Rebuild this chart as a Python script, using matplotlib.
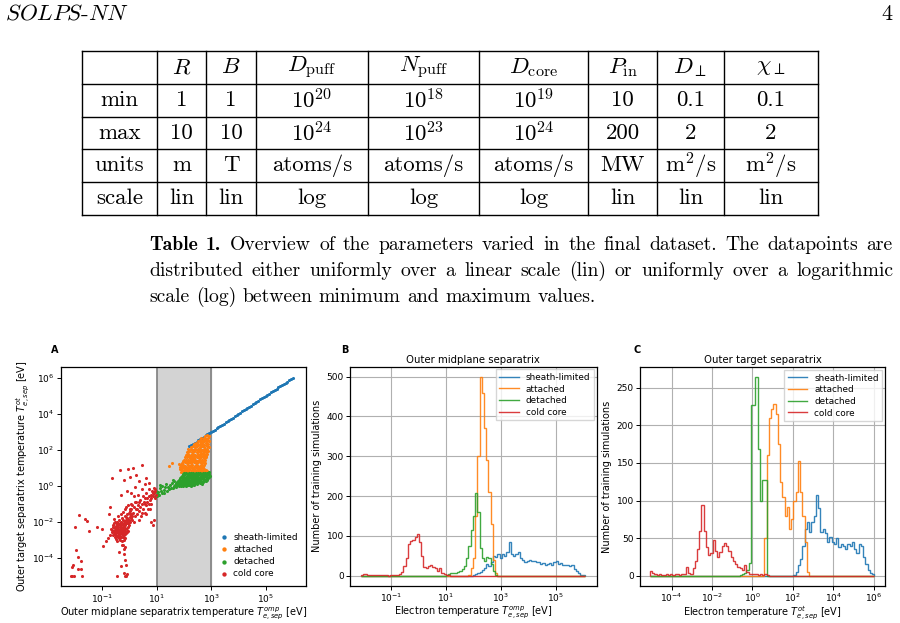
import numpy as np
import matplotlib.pyplot as plt
from matplotlib.lines import Line2D
from matplotlib.ticker import NullLocator

W, H = 900, 623

# ---------------- table 1 ----------------
col_heads = ['', r'$R$', r'$B$', r'$D_\mathrm{puff}$', r'$N_\mathrm{puff}$', r'$D_\mathrm{core}$',
             r'$P_\mathrm{in}$', r'$D_\perp$', r'$\chi_\perp$']
row_min = ['min', '1', '1', r'$10^{20}$', r'$10^{18}$', r'$10^{19}$', '10', '0.1', '0.1']
row_max = ['max', '10', '10', r'$10^{24}$', r'$10^{23}$', r'$10^{24}$', '200', '2', '2']
row_units = ['units', 'm', 'T', 'atoms/s', 'atoms/s', 'atoms/s', 'MW', r'm$^2$/s', r'm$^2$/s']
row_scale = ['scale', 'lin', 'lin', 'log', 'log', 'log', 'lin', 'lin', 'lin']

caption_bold = 'Table 1.'
caption = ['Overview of the parameters varied in the final dataset. The datapoints are',
           'distributed either uniformly over a linear scale (lin) or uniformly over a logarithmic',
           'scale (log) between minimum and maximum values.']

# ---------------- panel A: scatter (log10 T_omp, log10 T_ot) ----------------
sheath_logx = [2.20, 2.26, 2.33, 2.40, 2.46, 2.53, 2.60, 2.66, 2.73, 2.80, 2.86, 2.93, 3.00, 3.06, 3.13,
               3.20, 3.26, 3.33, 3.40, 3.46, 3.53, 3.60, 3.66, 3.73, 3.80, 3.86, 3.93, 4.00, 4.06, 4.13,
               4.20, 4.26, 4.33, 4.40, 4.46, 4.53, 4.60, 4.66, 4.73, 4.80, 4.86, 4.93, 5.00, 5.06, 5.13,
               5.20, 5.26, 5.33, 5.40, 5.46, 5.53, 5.60, 5.66, 5.73, 5.80, 5.86, 5.93, 6.00]
sheath_logy = [2.18, 2.25, 2.31, 2.39, 2.44, 2.52, 2.58, 2.65, 2.71, 2.79, 2.84, 2.92, 2.98, 3.05, 3.11,
               3.19, 3.24, 3.32, 3.38, 3.45, 3.51, 3.59, 3.64, 3.72, 3.78, 3.85, 3.91, 3.99, 4.04, 4.12,
               4.18, 4.25, 4.31, 4.39, 4.44, 4.52, 4.58, 4.65, 4.71, 4.79, 4.84, 4.92, 4.98, 5.05, 5.11,
               5.19, 5.24, 5.32, 5.38, 5.45, 5.51, 5.59, 5.64, 5.72, 5.78, 5.85, 5.91, 5.99]

attached_pts = [
    (1.90, 0.78), (1.98, 0.83), (2.07, 0.77), (2.16, 0.82), (2.24, 0.78), (2.33, 0.84), (2.41, 0.79),
    (2.50, 0.81), (2.58, 0.77), (2.67, 0.83), (2.75, 0.79), (2.83, 0.80),
    (1.94, 0.87), (2.03, 0.88), (2.11, 0.86), (2.20, 0.89), (2.29, 0.87), (2.37, 0.88), (2.46, 0.86),
    (2.54, 0.89), (2.63, 0.87), (2.71, 0.88), (2.79, 0.86),
    (1.86, 0.95), (1.94, 1.00), (2.03, 0.93), (2.12, 0.98), (2.20, 0.94), (2.29, 1.00), (2.37, 0.95),
    (2.46, 0.99), (2.55, 0.93), (2.63, 0.98), (2.72, 0.95),
    (1.92, 1.05), (2.01, 1.04), (2.09, 1.06), (2.18, 1.03), (2.26, 1.05), (2.35, 1.04), (2.43, 1.06),
    (2.52, 1.03), (2.60, 1.05), (2.69, 1.04),
    (1.88, 1.12), (1.97, 1.15), (2.05, 1.10), (2.14, 1.16), (2.22, 1.11), (2.31, 1.14), (2.39, 1.09),
    (2.48, 1.15), (2.57, 1.10), (2.65, 1.14), (2.73, 1.12),
    (1.93, 1.27), (2.02, 1.30), (2.10, 1.25), (2.19, 1.31), (2.27, 1.26), (2.36, 1.30), (2.44, 1.24),
    (2.53, 1.29), (2.61, 1.26), (2.70, 1.30), (2.78, 1.27),
    (1.97, 1.36), (2.06, 1.35), (2.14, 1.34), (2.23, 1.36), (2.31, 1.35), (2.40, 1.34), (2.48, 1.36),
    (2.57, 1.35), (2.65, 1.33), (2.74, 1.35),
    (1.99, 1.42), (2.07, 1.45), (2.16, 1.40), (2.25, 1.46), (2.33, 1.41), (2.42, 1.44), (2.50, 1.39),
    (2.59, 1.45), (2.67, 1.41), (2.76, 1.44),
    (2.04, 1.57), (2.12, 1.60), (2.21, 1.55), (2.30, 1.61), (2.38, 1.56), (2.47, 1.60), (2.55, 1.54),
    (2.64, 1.59), (2.72, 1.56), (2.80, 1.60),
    (2.10, 1.65), (2.19, 1.66), (2.27, 1.64), (2.36, 1.66), (2.45, 1.65), (2.53, 1.64), (2.62, 1.66),
    (2.70, 1.65), (2.79, 1.66),
    (2.08, 1.72), (2.16, 1.75), (2.25, 1.70), (2.34, 1.76), (2.42, 1.71), (2.51, 1.74), (2.59, 1.69),
    (2.68, 1.75), (2.77, 1.72), (2.84, 1.74),
    (2.12, 1.87), (2.20, 1.90), (2.29, 1.85), (2.38, 1.91), (2.46, 1.86), (2.55, 1.90), (2.63, 1.84),
    (2.72, 1.89), (2.80, 1.86), (2.87, 1.90),
    (2.20, 1.95), (2.29, 1.96), (2.37, 1.94), (2.46, 1.96), (2.54, 1.95), (2.63, 1.94), (2.71, 1.96),
    (2.80, 1.95),
    (2.16, 2.02), (2.25, 2.05), (2.33, 2.00), (2.42, 2.06), (2.50, 2.01), (2.59, 2.05), (2.67, 1.99),
    (2.76, 2.04), (2.84, 2.01),
    (2.24, 2.17), (2.32, 2.20), (2.41, 2.15), (2.49, 2.21), (2.58, 2.16), (2.66, 2.20), (2.75, 2.14),
    (2.83, 2.19), (2.90, 2.16),
    (2.40, 2.25), (2.49, 2.27), (2.57, 2.24), (2.66, 2.26), (2.74, 2.25), (2.83, 2.26),
    (2.36, 2.32), (2.45, 2.35), (2.53, 2.30), (2.62, 2.36), (2.70, 2.31), (2.79, 2.35), (2.87, 2.30),
    (2.50, 2.47), (2.58, 2.50), (2.67, 2.45), (2.75, 2.50), (2.84, 2.46), (2.91, 2.49),
    (2.60, 2.55), (2.69, 2.56), (2.77, 2.54), (2.86, 2.56),
    (2.64, 2.62), (2.72, 2.65), (2.80, 2.60), (2.88, 2.64),
    (2.78, 2.76), (2.86, 2.80), (2.92, 2.75),
    (1.82, 1.20), (1.85, 1.05), (1.45, 1.10), (1.55, 1.25),
]

detached_pts = [
    (2.00, 0.71), (2.09, 0.68), (2.17, 0.72), (2.26, 0.69), (2.34, 0.72), (2.43, 0.68), (2.51, 0.71),
    (2.60, 0.69), (2.68, 0.72), (2.77, 0.68), (2.85, 0.71), (2.93, 0.74),
    (1.96, 0.64), (2.05, 0.63), (2.13, 0.65), (2.22, 0.62), (2.30, 0.64), (2.39, 0.63), (2.47, 0.65),
    (2.56, 0.62), (2.64, 0.64), (2.73, 0.63), (2.81, 0.65), (2.90, 0.63),
    (1.92, 0.56), (2.01, 0.58), (2.10, 0.54), (2.18, 0.59), (2.27, 0.55), (2.35, 0.58), (2.44, 0.53),
    (2.52, 0.58), (2.61, 0.55), (2.69, 0.59), (2.78, 0.54), (2.86, 0.58), (2.94, 0.55),
    (1.89, 0.49), (1.98, 0.48), (2.07, 0.50), (2.15, 0.47), (2.24, 0.49), (2.32, 0.48), (2.41, 0.50),
    (2.49, 0.47), (2.58, 0.49), (2.66, 0.48), (2.75, 0.50), (2.83, 0.47), (2.91, 0.49),
    (1.85, 0.42), (1.94, 0.40), (2.03, 0.44), (2.11, 0.39), (2.20, 0.43), (2.28, 0.40), (2.37, 0.44),
    (2.45, 0.39), (2.54, 0.43), (2.62, 0.40), (2.71, 0.44), (2.79, 0.39), (2.88, 0.43),
    (1.82, 0.34), (1.91, 0.33), (2.00, 0.35), (2.08, 0.32), (2.17, 0.34), (2.25, 0.33), (2.34, 0.35),
    (2.42, 0.32), (2.51, 0.34), (2.59, 0.33), (2.68, 0.35), (2.76, 0.32), (2.85, 0.34),
    (1.78, 0.27), (1.87, 0.24), (1.96, 0.28), (2.04, 0.23), (2.13, 0.27), (2.21, 0.24), (2.30, 0.28),
    (2.38, 0.23), (2.47, 0.27), (2.55, 0.24), (2.64, 0.28), (2.72, 0.25), (2.80, 0.28),
    (1.74, 0.19), (1.83, 0.18), (1.92, 0.20), (2.01, 0.17), (2.10, 0.19), (2.18, 0.18), (2.27, 0.20),
    (2.35, 0.17), (2.44, 0.19), (2.52, 0.18), (2.61, 0.20), (2.70, 0.18),
    (1.70, 0.12), (1.79, 0.09), (1.88, 0.13), (1.97, 0.08), (2.06, 0.12), (2.14, 0.09), (2.23, 0.13),
    (2.31, 0.10), (2.40, 0.13), (2.48, 0.09), (2.57, 0.14), (2.66, 0.11),
    (1.66, 0.05), (1.75, 0.04), (1.84, 0.06), (1.93, 0.03), (2.02, 0.05), (2.11, 0.04), (2.20, 0.06),
    (2.28, 0.04), (2.36, 0.06),
    (1.62, -0.02), (1.71, -0.05), (1.80, -0.01), (1.89, -0.04), (1.98, 0.00), (2.07, -0.03),
    (2.16, 0.01), (2.25, -0.02),
    (1.55, 0.15), (1.48, 0.05), (1.40, -0.05), (1.52, -0.12), (1.44, -0.18), (1.35, 0.10), (1.30, -0.10),
    (1.25, -0.22), (1.20, 0.00), (1.15, -0.30), (1.10, -0.15), (1.05, -0.35), (1.00, -0.45), (0.97, -0.30),
    (1.08, -0.50), (1.18, -0.40), (1.60, -0.15), (1.65, 0.25), (1.58, 0.30), (1.38, -0.30), (1.28, -0.38),
    (1.12, 0.05), (0.93, -0.55), (1.02, -0.60),
]

cold_pts = [
    (-0.62, -2.30), (-0.60, -2.50), (-0.58, -2.10), (-0.55, -2.70), (-0.55, -2.35), (-0.52, -2.00),
    (-0.50, -2.55), (-0.50, -2.25), (-0.48, -2.80), (-0.47, -2.40), (-0.45, -2.10), (-0.44, -2.60),
    (-0.42, -2.30), (-0.40, -2.90), (-0.40, -2.50), (-0.38, -2.15), (-0.37, -1.90), (-0.35, -2.70),
    (-0.35, -2.40), (-0.33, -2.20), (-0.32, -2.55), (-0.30, -2.85), (-0.30, -2.00), (-0.28, -2.35),
    (-0.27, -1.80), (-0.25, -2.60), (-0.25, -2.20), (-0.23, -2.45), (-0.22, -1.95), (-0.20, -2.75),
    (-0.20, -2.30), (-0.18, -2.05), (-0.17, -1.70), (-0.15, -2.50), (-0.15, -2.20), (-0.13, -1.90),
    (-0.12, -2.65), (-0.10, -2.35), (-0.10, -1.60), (-0.08, -2.10), (-0.06, -1.85), (-0.05, -2.50),
    (-0.03, -1.50), (-0.02, -2.20), (0.00, -1.75), (0.02, -2.00), (0.03, -1.40), (0.05, -1.60),
    (-0.50, -2.95), (-0.45, -3.05), (-0.35, -3.00), (-0.28, -3.10), (-0.20, -3.00), (-0.15, -2.90),
    (-0.60, -2.75), (-0.65, -2.60), (-0.68, -2.40), (-0.57, -1.85), (-0.42, -1.70), (-0.30, -1.55),
    (-0.25, -1.45), (-0.18, -1.30), (-0.12, -1.20), (-0.05, -1.10), (0.00, -1.30),
    (-0.53, -2.45), (-0.47, -2.15), (-0.43, -2.75), (-0.38, -2.62), (-0.33, -2.45), (-0.27, -2.50),
    (-0.22, -2.15), (-0.18, -2.60), (-0.10, -2.00), (-0.08, -2.55), (-0.36, -2.30), (-0.46, -2.50),
    (-0.58, -2.60), (-0.26, -2.05), (-0.14, -1.75), (-0.04, -1.95),
    (-0.60, -2.20), (-0.56, -2.55), (-0.52, -2.30), (-0.49, -2.65), (-0.46, -2.00), (-0.43, -2.45),
    (-0.41, -2.20), (-0.39, -2.78), (-0.36, -2.05), (-0.34, -2.58), (-0.31, -2.30), (-0.29, -2.70),
    (-0.26, -2.40), (-0.24, -1.90), (-0.21, -2.55), (-0.19, -2.20), (-0.16, -2.40), (-0.13, -2.05),
    (-0.11, -2.50), (-0.09, -1.80), (-0.07, -2.30), (-0.04, -2.10), (-0.01, -1.90), (0.01, -1.60),
    (0.04, -1.80), (0.07, -1.30), (0.08, -1.70), (-0.50, -2.40), (-0.44, -2.85), (-0.33, -2.85),
    (-0.23, -2.85), (-0.16, -2.70), (-0.54, -2.85), (-0.64, -2.45),
    (-0.25, -3.30), (-0.20, -3.50), (-0.22, -3.80), (-0.15, -3.40), (-0.18, -4.10), (-0.12, -4.40),
    (-0.20, -4.85), (-0.15, -5.00), (-0.10, -4.90), (-0.45, -5.00), (-0.30, -4.45), (-0.38, -3.70),
    (-0.27, -3.30), (-0.12, -5.00),
    (0.10, -1.90), (0.12, -1.50), (0.15, -1.20), (0.18, -2.00), (0.20, -1.70), (0.22, -1.30),
    (0.25, -0.90), (0.28, -1.60), (0.30, -1.10), (0.33, -1.90), (0.35, -1.40), (0.38, -0.80),
    (0.40, -1.20), (0.42, -1.70), (0.45, -1.00), (0.48, -0.60), (0.50, -1.30), (0.52, -0.90),
    (0.55, -1.50), (0.58, -0.70), (0.60, -1.10), (0.62, -0.40), (0.65, -0.90), (0.68, -1.30),
    (0.70, -0.60), (0.72, -0.20), (0.75, -0.80), (0.78, -0.50), (0.80, -1.00), (0.82, -0.30),
    (0.85, -0.60), (0.88, -0.15), (0.90, -0.40), (0.92, -0.70), (0.95, -0.30), (0.97, -0.50),
    (0.05, -1.00), (0.30, -0.50), (0.15, -0.60), (0.60, -1.60), (0.75, -1.30), (0.78, -2.00),
    (0.87, -2.20), (0.90, -1.90), (0.10, -1.10), (0.20, -0.90), (0.27, -1.30), (0.35, -0.90),
    (0.45, -1.50), (0.55, -1.00), (0.65, -0.70), (0.70, -1.00), (0.80, -0.70), (0.85, -0.40),
    (0.93, -0.20),
    (-0.66, 0.40), (-0.36, 0.87), (-0.07, 0.92), (0.14, 0.98), (0.47, 1.16), (0.25, 0.60), (0.02, 0.50),
    (-0.20, 0.30), (0.35, 0.25), (0.55, 0.10), (0.60, 0.45), (0.70, 0.15), (0.45, -0.20), (0.20, -0.10),
    (-0.10, -0.30), (-0.30, -0.50), (0.05, -0.40),
    (-1.84, -1.63), (-2.00, -2.28), (-1.63, -1.86), (-1.57, -1.95), (-1.20, -2.28), (-0.96, -3.35),
    (-0.72, -2.74), (-2.06, -4.40), (-2.12, -4.50), (-1.89, -3.94), (-1.78, -4.20), (-1.78, -4.60),
    (-1.90, -4.60), (-2.15, -5.00), (-2.10, -5.00), (-2.05, -5.00), (-1.73, -5.00), (-1.95, -3.55),
    (-1.50, -2.50), (-1.00, -2.40), (-0.85, -3.10), (-0.80, -2.90), (-0.75, -1.60), (-0.70, -1.20),
]

# ---------------- panels B / C: histograms (100 log bins, nonzero stretch + start bin) ----------------
n_bins = 100
B_log_range = (-2.10, 6.05)
C_log_range = (-5.07, 6.03)

B_sheath_start, B_sheath = 50, [2, 4, 6, 10, 15, 20, 30, 25, 35, 50, 48, 55, 45, 55, 50, 60, 85, 55, 50, 55,
                                60, 45, 40, 35, 38, 40, 36, 38, 35, 34, 30, 32, 28, 30, 33, 28, 35, 38, 30, 32,
                                28, 28, 27, 25, 26, 18, 12, 6, 3, 2]
B_attached_start, B_attached = 48, [3, 20, 45, 150, 300, 500, 460, 370, 290, 210, 130, 40, 8]
B_detached_start, B_detached = 38, [3, 5, 8, 6, 8, 10, 12, 18, 25, 45, 75, 115, 150, 209, 160, 70, 45, 38,
                                    48, 45, 30, 12, 3]
B_cold_start, B_cold = 0, [3, 5, 4, 2, 3, 2, 3, 1, 1, 2, 1, 1, 0, 1, 1, 2, 3, 5, 10, 25, 45, 80, 88, 90, 97,
                           105, 85, 50, 22, 20, 24, 26, 22, 20, 12, 20, 8, 5, 3, 2]

C_sheath_start, C_sheath = 64, [1, 5, 14, 22, 40, 62, 72, 58, 72, 80, 108, 90, 58, 62, 57, 45, 52, 45, 42, 50,
                                38, 42, 40, 35, 42, 40, 45, 35, 30, 42, 40, 25, 15, 8, 4, 2]
C_attached_start, C_attached = 51, [50, 160, 210, 222, 229, 215, 175, 125, 105, 80, 92, 62, 75, 100, 112,
                                    152, 112, 80, 45, 5]
C_detached_start, C_detached = 40, [1, 2, 4, 8, 17, 227, 227, 264, 168, 100, 128, 128]
C_cold_start, C_cold = 0, [6, 4, 2, 1, 2, 1, 1, 3, 1, 2, 1, 2, 2, 1, 3, 2, 12, 4, 3, 10, 20, 35, 60, 94, 60,
                           38, 28, 30, 48, 33, 25, 32, 40, 44, 40, 33, 25, 20, 16, 12, 10, 8, 14, 5, 3, 2, 3,
                           2, 1, 2, 1, 2, 1]

labels = ['sheath-limited', 'attached', 'detached', 'cold core']
colors = ['tab:blue', 'tab:orange', 'tab:green', 'tab:red']


def full_counts(start, vals):
    c = np.zeros(n_bins)
    c[start:start + len(vals)] = vals
    return c


def fx(px):
    return px / W


def fy(py):
    return 1 - py / H


fig = plt.figure(figsize=(9, 6.23), dpi=100)
renderer = fig.canvas.get_renderer()

# page header
fig.text(fx(5), fy(14), r'$\mathit{SOLPS}$-$\mathit{NN}$', family='cmr10', math_fontfamily='cm',
         fontsize=16.5, va='center', ha='left')
fig.text(fx(893), fy(14), '4', family='cmr10', fontsize=16, va='center', ha='right')

# table grid
tab_fs = 16.5
col_x = [82, 157, 206, 256, 368, 479, 588, 657, 724, 818]
row_y = [51, 84, 117, 149, 182, 215]
for px in col_x:
    fig.add_artist(Line2D([fx(px), fx(px)], [fy(row_y[0]), fy(row_y[-1])], color='k', lw=1.0))
for py in row_y:
    fig.add_artist(Line2D([fx(col_x[0]), fx(col_x[-1])], [fy(py), fy(py)], color='k', lw=1.0))
for r, row in enumerate([col_heads, row_min, row_max, row_units, row_scale]):
    yc = (row_y[r] + row_y[r + 1]) / 2
    for c, cell in enumerate(row):
        xc = (col_x[c] + col_x[c + 1]) / 2
        fig.text(fx(xc), fy(yc), cell, family='cmr10', math_fontfamily='cm', fontsize=tab_fs,
                 ha='center', va='center')

# caption, justified like the LaTeX source (last line ragged)
cap_fs = 14.2
cap_x0, cap_x1 = 149, 893
for k, line in enumerate(caption):
    words = [(w, 'cmr10') for w in line.split()]
    if k == 0:
        words = [(w, 'cmb10') for w in caption_bold.split()] + words
    objs = [fig.text(0, fy(245 + 26 * k), w, family=f, fontsize=cap_fs, ha='left', va='center')
            for w, f in words]
    widths = [t.get_window_extent(renderer).width for t in objs]
    gap = cap_fs * 100 / 72 * 0.33
    if k < len(caption) - 1:
        gap = (cap_x1 - cap_x0 - sum(widths)) / (len(objs) - 1)
    xpos = cap_x0
    for t, wd in zip(objs, widths):
        t.set_x(fx(xpos))
        xpos += wd + gap

plt.rcParams['font.family'] = 'DejaVu Sans'
lab_fs = 7
tick_fs = 6.5
leg_fs = 6.4

# ---------------- A ----------------
axA = fig.add_axes([0.0674, 0.0594, 0.2726, 0.3516])
axA.axvspan(10, 1e3, color='lightgray', zorder=0)
axA.axvline(10, color='gray', lw=1.2, zorder=1)
axA.axvline(1e3, color='gray', lw=1.2, zorder=1)
sets = [(np.array(sheath_logx), np.array(sheath_logy)),
        tuple(np.array(attached_pts).T),
        tuple(np.array(detached_pts).T),
        tuple(np.array(cold_pts).T)]
for (lx, ly), col, lab in zip(sets, colors, labels):
    axA.scatter(10.0 ** lx, 10.0 ** ly, s=5, color=col, lw=0, label=lab, zorder=2)
axA.set_xscale('log')
axA.set_yscale('log')
axA.set_xlim(10 ** -2.53, 10 ** 6.48)
axA.set_ylim(10 ** -5.57, 10 ** 6.59)
axA.set_xticks([1e-1, 1e1, 1e3, 1e5])
axA.set_yticks([1e-4, 1e-2, 1e0, 1e2, 1e4, 1e6])
axA.xaxis.set_minor_locator(NullLocator())
axA.yaxis.set_minor_locator(NullLocator())
axA.set_xlabel(r'Outer midplane separatrix temperature $T^{omp}_{e,sep}$ [eV]', fontsize=lab_fs, labelpad=0)
axA.set_ylabel(r'Outer target separatrix temperature $T^{ot}_{e,sep}$ [eV]', fontsize=lab_fs)
axA.yaxis.set_label_coords(-0.115, 0.5)
axA.legend(loc='lower right', frameon=False, fontsize=leg_fs, markerscale=1.4, handletextpad=0.1,
           labelspacing=0.35, borderaxespad=0.5)


# ---------------- B, C ----------------
def hist_panel(rect, log_range, series, title, xlab, xlim, ylim, xticks, yticks):
    ax = fig.add_axes(rect)
    edges = np.logspace(log_range[0], log_range[1], n_bins + 1)
    for (start, vals), col, lab in zip(series, colors, labels):
        ax.stairs(full_counts(start, vals), edges, color=col, lw=1.0, alpha=0.9, label=lab)
    ax.set_xscale('log')
    ax.set_xlim(*xlim)
    ax.set_ylim(*ylim)
    ax.set_xticks(xticks)
    ax.set_yticks(yticks)
    ax.xaxis.set_minor_locator(NullLocator())
    ax.grid(True, color='#b0b0b0', lw=0.8)
    ax.set_axisbelow(True)
    ax.set_title(title, fontsize=7.3, pad=3)
    ax.set_xlabel(xlab, fontsize=lab_fs, labelpad=0)
    ax.set_ylabel('Number of training simulations', fontsize=lab_fs, labelpad=3)
    ax.legend(loc='upper right', fontsize=leg_fs, handlelength=2.2, labelspacing=0.3,
              borderaxespad=0.3, fancybox=False)
    return ax


axB = hist_panel([0.3889, 0.0599, 0.2741, 0.3515], B_log_range,
                 [(B_sheath_start, B_sheath), (B_attached_start, B_attached),
                  (B_detached_start, B_detached), (B_cold_start, B_cold)],
                 'Outer midplane separatrix', r'Electron temperature $T^{omp}_{e,sep}$ [eV]',
                 (10 ** -2.49, 10 ** 6.48), (-25, 525), [1e-1, 1e1, 1e3, 1e5], range(0, 501, 100))
axC = hist_panel([0.7111, 0.0599, 0.2722, 0.3505], C_log_range,
                 [(C_sheath_start, C_sheath), (C_attached_start, C_attached),
                  (C_detached_start, C_detached), (C_cold_start, C_cold)],
                 'Outer target separatrix', r'Electron temperature $T^{ot}_{e,sep}$ [eV]',
                 (10 ** -5.56, 10 ** 6.56), (-13.2, 277.2), [1e-4, 1e-2, 1e0, 1e2, 1e4, 1e6],
                 range(0, 251, 50))

for ax in (axA, axB, axC):
    ax.tick_params(labelsize=tick_fs, length=3, width=0.7, pad=1.5)
    for sp in ax.spines.values():
        sp.set_linewidth(0.9)

for lx, letter in [(55, 'A'), (345, 'B'), (637, 'C')]:
    fig.text(fx(lx), fy(350), letter, fontsize=7, weight='bold', ha='center', va='center')

fig.savefig('out.png', dpi=100)
